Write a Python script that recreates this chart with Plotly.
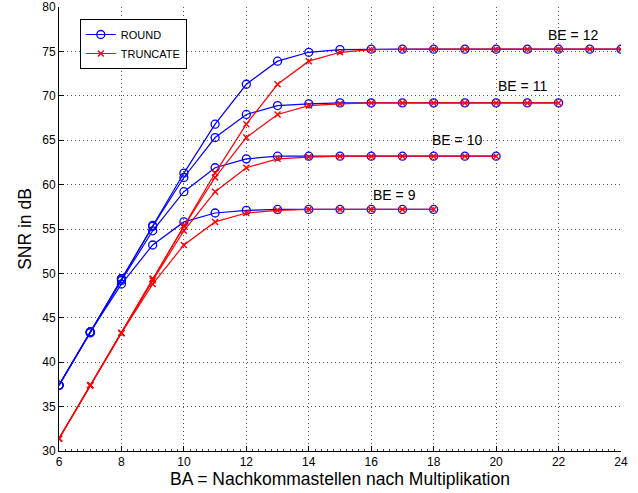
import plotly.graph_objects as go

# ---- data ----
be_values = [9, 10, 11, 12]

round_be9 = [37.4, 43.4, 48.8, 53.2, 55.8, 56.8, 57.1, 57.2, 57.2, 57.2, 57.2, 57.2, 57.2]
round_be10 = [37.4, 43.3, 49.2, 54.8, 59.2, 61.9, 62.9, 63.2, 63.2, 63.2, 63.2, 63.2, 63.2, 63.2, 63.2]
round_be11 = [37.4, 43.4, 49.4, 55.3, 60.8, 65.3, 67.9, 68.9, 69.1, 69.2, 69.2, 69.2, 69.2, 69.2, 69.2, 69.2, 69.2]
round_be12 = [37.4, 43.4, 49.4, 55.4, 61.3, 66.8, 71.3, 73.9, 74.9, 75.2, 75.25, 75.25, 75.25, 75.25, 75.25,
              75.25, 75.25, 75.25, 75.25]

trunc_be9 = [31.4, 37.4, 43.3, 48.8, 53.2, 55.8, 56.8, 57.1, 57.2, 57.2, 57.2, 57.2, 57.2]
trunc_be10 = [31.4, 37.4, 43.3, 49.2, 54.8, 59.2, 61.9, 62.9, 63.1, 63.2, 63.2, 63.2, 63.2, 63.2, 63.2]
trunc_be11 = [31.4, 37.4, 43.3, 49.4, 55.3, 60.8, 65.3, 67.9, 68.9, 69.1, 69.2, 69.2, 69.2, 69.2, 69.2, 69.2, 69.2]
trunc_be12 = [31.4, 37.4, 43.3, 49.4, 55.4, 61.3, 66.8, 71.3, 73.9, 74.9, 75.2, 75.25, 75.25, 75.25, 75.25,
              75.25, 75.25, 75.25, 75.25]

round_series = [round_be9, round_be10, round_be11, round_be12]
trunc_series = [trunc_be9, trunc_be10, trunc_be11, trunc_be12]

label_texts = ["BE = 9", "BE = 10", "BE = 11", "BE = 12"]
label_x = [16.76, 18.76, 20.86, 22.46]
label_y = [58.84, 65.04, 71.05, 76.88]

x_ticks = list(range(6, 25, 2))
y_ticks = list(range(30, 81, 5))

FONT = "Liberation Sans, Arial, Helvetica, sans-serif"
BLUE = "#0000ff"
RED = "#ff0000"

fig = go.Figure()

for i, (be, ys) in enumerate(zip(be_values, round_series)):
    xs = list(range(6, 6 + len(ys)))
    fig.add_trace(go.Scatter(
        x=xs, y=ys, mode="lines+markers", name="ROUND",
        showlegend=(i == 0),
        line=dict(color=BLUE, width=1.2),
        marker=dict(symbol="circle-open", size=8, color=BLUE, line=dict(width=1.3, color=BLUE)),
    ))

for i, (be, ys) in enumerate(zip(be_values, trunc_series)):
    xs = list(range(6, 6 + len(ys)))
    fig.add_trace(go.Scatter(
        x=xs, y=ys, mode="lines+markers", name="TRUNCATE",
        showlegend=(i == 0),
        line=dict(color=RED, width=1.2),
        marker=dict(symbol="x-thin-open", size=6, color=RED, line=dict(width=1.4, color=RED)),
    ))

for t, lx, ly in zip(label_texts, label_x, label_y):
    fig.add_annotation(x=lx, y=ly, text=t, showarrow=False,
                       font=dict(family=FONT, size=14, color="black"))

axis_common = dict(
    showline=True, linecolor="black", linewidth=1,
    ticks="inside", ticklen=5, tickcolor="black",
    showgrid=True, gridcolor="#555555", gridwidth=1, griddash="1px,3px",
    zeroline=False, mirror=False, automargin=False,
    tickfont=dict(family=FONT, size=12, color="black"),
)

fig.update_xaxes(
    range=[6, 24], tickvals=x_ticks,
    title=dict(text="BA = Nachkommastellen nach Multiplikation",
               font=dict(family=FONT, size=17.5, color="black"), standoff=2),
    minor=dict(dtick=0.2, tick0=6, ticks="inside", ticklen=2.5, tickcolor="#444444", showgrid=False),
    **axis_common,
)
fig.update_yaxes(
    range=[30, 80], tickvals=y_ticks,
    title=dict(text="SNR in dB", font=dict(family=FONT, size=17.5, color="black"), standoff=6),
    **axis_common,
)

fig.update_layout(
    width=638, height=493,
    margin=dict(l=59, r=17, t=7, b=42),
    paper_bgcolor="white", plot_bgcolor="white",
    font=dict(family=FONT, size=11, color="black"),
    legend=dict(
        x=0.037, y=0.973, xanchor="left", yanchor="top",
        bgcolor="white", bordercolor="black", borderwidth=1,
        font=dict(family=FONT, size=11, color="black"),
        tracegroupgap=0, itemwidth=30, traceorder="normal",
    ),
)

fig.write_html("out.html")
